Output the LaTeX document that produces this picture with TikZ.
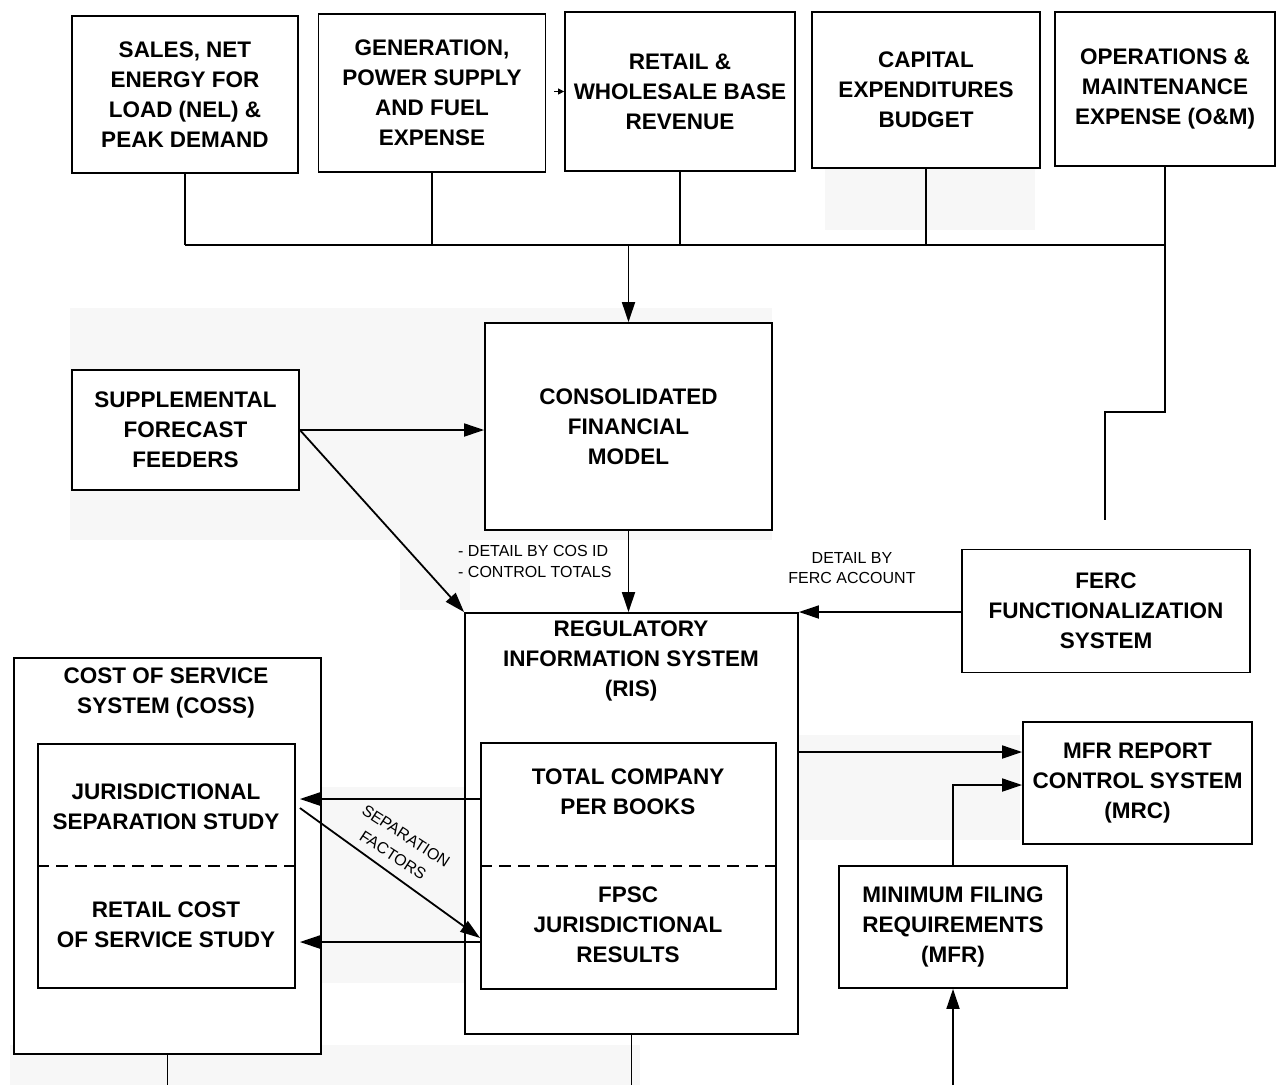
\documentclass[tikz,border=0pt]{standalone}
\usepackage{fontspec}
\setmainfont{Liberation Sans}
\usetikzlibrary{arrows.meta}
\tikzset{
  box/.style={draw, line width=1.8pt, fill=white, align=center, inner sep=0pt,
    font=\bfseries\fontsize{22.5}{30}\selectfont},
  txt/.style={align=center, inner sep=0pt, font=\bfseries\fontsize{22.5}{30}\selectfont},
  lbl/.style={inner sep=0pt, font=\fontsize{16}{20.5}\selectfont},
  ln/.style={line width=1.8pt},
  arr/.style={line width=1.8pt, -{Triangle[length=20pt,width=13pt]}},
  divider/.style={line width=1.8pt, dash pattern=on 12pt off 7pt},
  scan/.style={fill=black!3, draw=none},
}
\begin{document}
\begin{tikzpicture}[x=1pt,y=-1pt]
\useasboundingbox (0,0) rectangle (1276,1085);
\fill[white] (0,0) rectangle (1276,1085);
% faint scan patches
\fill[scan] (70,308) rectangle (772,540);
\fill[scan] (825,168) rectangle (1035,230);
\fill[scan] (400,540) rectangle (470,610);
\fill[scan] (300,787) rectangle (520,983);
\fill[scan] (10,1045) rectangle (640,1085);
\fill[scan] (797,735) rectangle (1020,840);

% top row
\node[box, minimum width=226pt, minimum height=157pt] (b1) at (185,94.5) {SALES, NET\\ENERGY FOR\\LOAD (NEL) \&\\PEAK DEMAND};
\node[box, minimum width=227pt, minimum height=158pt] (b2) at (432,93) {GENERATION,\\POWER SUPPLY\\AND FUEL\\EXPENSE};
\node[box, minimum width=230pt, minimum height=159pt] (b3) at (680,91.5) {RETAIL \&\\WHOLESALE BASE\\REVENUE};
\node[box, minimum width=228pt, minimum height=156pt] (b4) at (926,90) {CAPITAL\\EXPENDITURES\\BUDGET};
\node[box, minimum width=220pt, minimum height=154pt] (b5) at (1165,89) {OPERATIONS \&\\MAINTENANCE\\EXPENSE (O\&M)};

% middle
\node[box, minimum width=227pt, minimum height=120pt] (supp) at (185.5,430) {SUPPLEMENTAL\\FORECAST\\FEEDERS};
\node[box, minimum width=287pt, minimum height=207pt] (cfm) at (628.5,426.5) {CONSOLIDATED\\FINANCIAL\\MODEL};
\node[box, minimum width=288pt, minimum height=123pt] (ferc) at (1106,611) {FERC\\FUNCTIONALIZATION\\SYSTEM};

% RIS
\node[box, minimum width=333pt, minimum height=421pt] (ris) at (631.5,823.5) {};
\node[txt] (ristitle) at (631,661) {REGULATORY\\INFORMATION SYSTEM\\(RIS)};
\node[box, minimum width=295pt, minimum height=246pt] (rin) at (628.5,866) {};
\draw[divider] (rin.west) -- (rin.east);
\node[txt] (tcp) at (628,791.5) {TOTAL COMPANY\\PER BOOKS};
\node[txt] (fpsc) at (628,925) {FPSC\\JURISDICTIONAL\\RESULTS};

% COSS
\node[box, minimum width=307pt, minimum height=396pt] (coss) at (167.5,856) {};
\node[txt] (cosstitle) at (166,693) {COST OF SERVICE\\SYSTEM (COSS)};
\node[box, minimum width=257pt, minimum height=244pt] (cin) at (166.5,866) {};
\draw[divider] (cin.west) -- (cin.east);
\node[txt] (jss) at (166,806.5) {JURISDICTIONAL\\SEPARATION STUDY};
\node[txt] (rcs) at (166,925) {RETAIL COST\\OF SERVICE STUDY};

% MRC / MFR
\node[box, minimum width=229pt, minimum height=122pt] (mrc) at (1137.5,783) {MFR REPORT\\CONTROL SYSTEM\\(MRC)};
\node[box, minimum width=228pt, minimum height=122pt] (mfr) at (953,927) {MINIMUM FILING\\REQUIREMENTS\\(MFR)};

% labels
\node[lbl, align=left, anchor=west] (l1) at (458,561.5) {- DETAIL BY COS ID\\- CONTROL TOTALS};
\node[lbl, align=center] (l2) at (852,568) {DETAIL BY\\FERC ACCOUNT};
\node[lbl, rotate=-33] (l3a) at (406,836) {SEPARATION};
\node[lbl, rotate=-33] (l3b) at (393,855) {FACTORS};

% bus
\coordinate (bus) at (0,245);
\coordinate (j1) at (1165,412);
\coordinate (j2) at (1105,412);
\coordinate (j3) at (1105,520);
\draw[ln] (b1.south |- bus) -- (j1 |- bus);
\draw[ln] (b1.south) -- (b1.south |- bus);
\draw[ln] (b2.south) -- (b2.south |- bus);
\draw[ln] (b3.south) -- (b3.south |- bus);
\draw[ln] (b4.south) -- (b4.south |- bus);
\draw[ln] (b5.south) -- (j1) -- (j2) -- (j3);
\draw[line width=1pt, -{Triangle[length=6pt,width=6pt]}] ([xshift=-10pt]b3.west) -- (b3.west);
\draw[arr] (cfm.north |- bus) -- (cfm.north);

% middle arrows
\draw[arr] (supp.east) -- (supp.east -| cfm.west);
\draw[arr] (supp.east) -- (ris.north west);
\draw[arr] (cfm.south) -- (cfm.south |- ris.north);
\draw[arr] ([yshift=-1pt]ferc.west) -- ([yshift=-1pt]ferc.west -| ris.east);

% COSS arrows
\draw[arr] ([yshift=67pt]rin.west) -- ([yshift=67pt,xshift=4pt]cin.east);
\draw[arr] ([yshift=58pt,xshift=4pt]cin.east) -- ([yshift=-72pt]rin.west);
\draw[arr] ([yshift=-76pt]rin.west) -- ([yshift=-76pt,xshift=4pt]cin.east);

% MRC arrows
\coordinate (m1) at (0,752);
\draw[arr] (ris.east |- m1) -- (mrc.west |- m1);
\draw[arr] (mfr.north) |- ([yshift=-2pt]mrc.west);
\coordinate (mfrin) at (953,1085);
\draw[arr] (mfrin) -- (mfr.south);

% bottom exits
\coordinate (bot) at (0,1085);
\draw[ln] (coss.south) -- (coss.south |- bot);
\draw[ln] (ris.south) -- (ris.south |- bot);
\end{tikzpicture}
\end{document}
